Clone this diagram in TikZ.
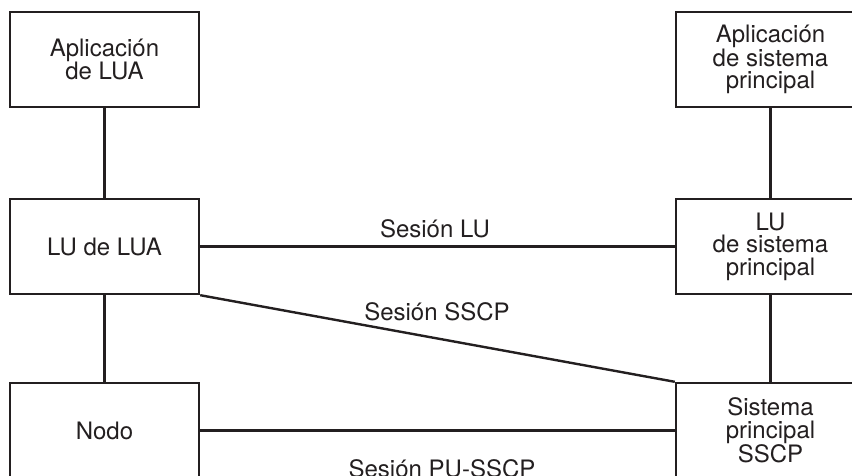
\documentclass[tikz,border=0pt]{standalone}
\usepackage{fontspec}
\setmainfont{TeX Gyre Heros}
\definecolor{ink}{HTML}{231F20}
\begin{document}
\begin{tikzpicture}[x=1pt,y=-1pt,
  box/.style={draw=ink,line width=2.4pt,minimum width=189pt,minimum height=95pt,inner sep=0pt,
    align=center,text=ink,font=\fontsize{24}{22.5}\selectfont},
  conn/.style={draw=ink,line width=2.4pt},
  lbl/.style={anchor=base,text=ink,inner sep=0pt,font=\fontsize{24}{22.5}\selectfont}]
\useasboundingbox (0,0) rectangle (852,476);
\clip (0,0) rectangle (852,476);
\node[box] (a1) at (104.5,59.5) {Aplicación\\de LUA};
\node[box] (a2) at (770.5,59.5) {Aplicación\\de sistema\\principal};
\node[box] (l1) at (104.5,246.5) {LU de LUA};
\node[box] (l2) at (770.5,246.5) {LU\\de sistema\\principal};
\node[box] (n1) at (104.5,430.5) {Nodo};
\node[box] (n2) at (770.5,430.5) {Sistema\\principal\\SSCP};
\draw[conn] (a1) -- (l1);
\draw[conn] (l1) -- (n1);
\draw[conn] (a2) -- (l2);
\draw[conn] (l2) -- (n2);
\draw[conn] (l1) -- (l2);
\draw[conn] (n1) -- (n2);
\draw[conn] (l1.south east) -- (n2.north west);
\node[lbl] (s1) at (435,237) {Sesión LU};
\node[lbl] (s2) at (437,320) {Sesión SSCP};
\node[lbl] (s3) at (442,477) {Sesión PU-SSCP};
\end{tikzpicture}
\end{document}
